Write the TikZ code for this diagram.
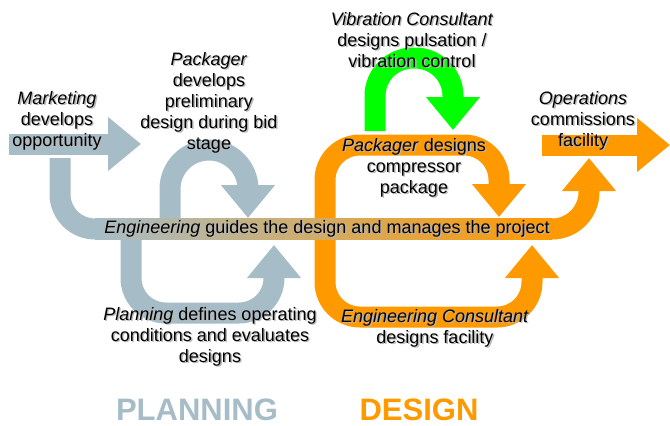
\documentclass[tikz,border=0pt]{standalone}
\usepackage{fontspec}
\setmainfont{Liberation Sans}
\usetikzlibrary{arrows.meta}

\definecolor{slate}{HTML}{A6BDC8}
\definecolor{amber}{HTML}{FF9900}
\definecolor{vibgreen}{HTML}{00FF00}
\definecolor{blend}{HTML}{DCAE98}

\tikzset{
  band/.style={line width=21pt},
  headtip/.style={-{Triangle[length=33pt,width=52pt]}},
  txt/.style={align=center, inner sep=0pt, font=\fontsize{18}{21}\selectfont},
  phase/.style={inner sep=0pt, font=\fontsize{31}{36}\selectfont\bfseries},
}

% label with a soft drop shadow: name, position, text
\newcommand{\shadowlabel}[3]{%
  \node[txt, black!28] (#1-sh) at ([shift={(1.3,1.3)}]#2) {#3};
  \node[txt] (#1) at (#2) {#3};}

\begin{document}
\begin{tikzpicture}[x=1pt, y=-1pt]
  \useasboundingbox (0,0) rectangle (670,426);

  % planning side
  \draw[band, slate, headtip] (9,144) -- (141,144);
  \draw[band, slate, rounded corners=35pt] (60,158) -- (60,229) -- (110,229);
  \draw[band, slate, headtip, rounded corners=39pt]
    (170,229) -- (170,150) -- (248,150) -- (248,218);
  \draw[band, slate, headtip, rounded corners=35pt]
    (131,229) -- (131,313) -- (274,313) -- (274,245);

  % design side
  \draw[band, vibgreen, headtip, rounded corners=38pt]
    (375,131) -- (375,58) -- (453,58) -- (453,130);
  \draw[band, amber, headtip, rounded corners=35pt]
    (325,229) -- (325,145) -- (499,145) -- (499,217);
  \draw[band, amber, headtip, rounded corners=35pt]
    (325,229) -- (325,317) -- (532,317) -- (532,245);
  \draw[band, amber, headtip, rounded corners=37pt]
    (540,229) -- (589,229) -- (589,158);
  \draw[band, amber, headtip] (542,145) -- (670,145);

  % engineering band across both phases
  \shade[left color=slate, middle color=blend, right color=amber]
    (95,218.5) rectangle (552,239.5);

  % labels
  \shadowlabel{mkt}{57,121}{\textit{Marketing}\\develops\\opportunity}
  \shadowlabel{pkgbid}{209,103}
    {\textit{Packager}\\develops\\preliminary\\design during bid\\stage}
  \shadowlabel{vib}{412,40}
    {\textit{Vibration Consultant}\\designs pulsation /\\vibration control}
  \shadowlabel{pkgcmp}{414,168}{\textit{Packager} designs\\compressor\\package}
  \shadowlabel{ops}{583,121}{\textit{Operations}\\commissions\\facility}
  \shadowlabel{eng}{327,229}
    {\textit{Engineering} guides the design and manages the project}
  \shadowlabel{plan}{210,337}
    {\textit{Planning} defines operating\\conditions and evaluates\\designs}
  \shadowlabel{engc}{435,328}{\textit{Engineering Consultant}\\designs facility}

  \node[phase, slate] (planning) at (197,410) {PLANNING};
  \node[phase, amber] (design) at (419,410) {DESIGN};
\end{tikzpicture}
\end{document}
